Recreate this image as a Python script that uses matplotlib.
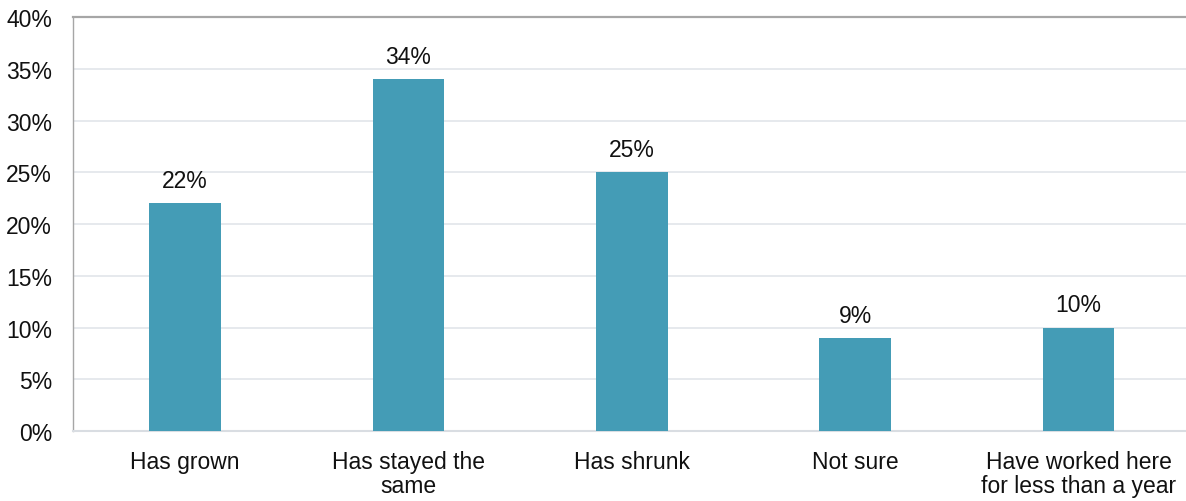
import matplotlib.pyplot as plt
from matplotlib.ticker import FuncFormatter

plt.rcParams['font.family'] = ['Liberation Sans', 'DejaVu Sans']

categorias = ["Has grown", "Has stayed the\nsame", "Has shrunk", "Not sure",
              "Have worked here\nfor less than a year"]
valores = [22, 34, 25, 9, 10]

fig = plt.figure(figsize=(11.86, 5.02), dpi=100)
ax = fig.add_axes([0.0616, 0.1394, 0.9384, 0.8247])

x = range(len(categorias))
barras = ax.bar(x, valores, width=0.32, color="#449cb6", zorder=3)

for xi, v in zip(x, valores):
    ax.annotate("{}%".format(v), (xi, v), xytext=(0, 8), textcoords="offset points",
                ha="center", va="bottom", fontsize=16.5, color="#111111")

ax.set_ylim(0, 40)
ax.set_xlim(-0.5, 4.48)
ax.set_yticks(range(0, 41, 5))
ax.yaxis.set_major_formatter(FuncFormatter(lambda v, p: "{:.0f}%".format(v)))
ax.set_xticks(list(x))
ax.set_xticklabels(categorias, fontsize=16.5, color="#111111", linespacing=1.05)
ax.tick_params(axis="y", labelsize=16.5, labelcolor="#111111", length=0, pad=15)
ax.tick_params(axis="x", length=0, pad=14)

ax.grid(axis="y", color="#e1e5ea", linewidth=1.2, zorder=0)
ax.spines["right"].set_visible(False)
ax.spines["left"].set_color("#a6a6a6")
ax.spines["left"].set_linewidth(1.0)
ax.spines["top"].set_color("#a6a6a6")
ax.spines["top"].set_linewidth(1.6)
ax.spines["bottom"].set_color("#d9dde2")
ax.spines["bottom"].set_linewidth(1.5)

plt.savefig("out.png", dpi=100)
